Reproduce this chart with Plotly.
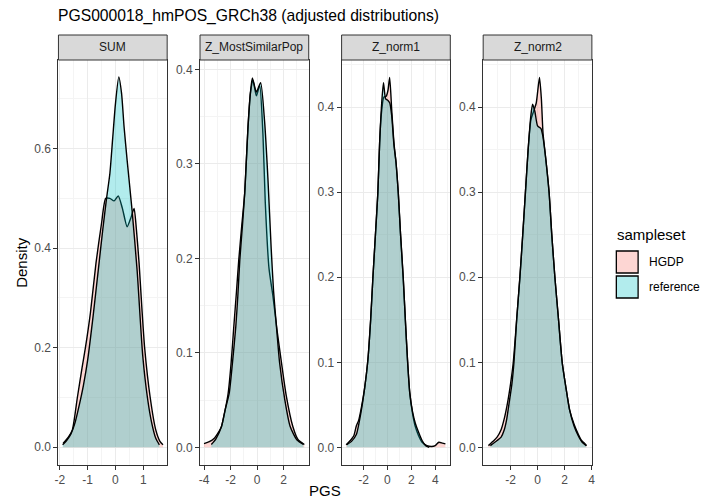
import plotly.graph_objects as go

W, H = 702, 501

# ---------------- data ----------------
panels = ["SUM", "Z_MostSimilarPop", "Z_norm1", "Z_norm2"]
groups = ["HGDP", "reference"]

sum_hgdp_x = [-1.88, -1.7, -1.55, -1.37, -1.2, -1.08, -0.9, -0.7, -0.5, -0.35, -0.2, -0.05,
              0.1, 0.25, 0.42, 0.55, 0.67, 0.75, 0.85, 0.95, 1.05, 1.25, 1.45, 1.6, 1.71]
sum_hgdp_y = [0.008, 0.02, 0.035, 0.10, 0.16, 0.20, 0.27, 0.37, 0.45, 0.50, 0.50, 0.495,
              0.505, 0.48, 0.443, 0.46, 0.48, 0.44, 0.37, 0.28, 0.20, 0.10, 0.035, 0.012, 0.005]
sum_ref_x = [-1.9, -1.75, -1.6, -1.45, -1.3, -1.15, -1.0, -0.8, -0.62, -0.45, -0.32, -0.2, -0.1,
             0.0, 0.12, 0.22, 0.31, 0.42, 0.6, 0.78, 0.98, 1.15, 1.3, 1.45, 1.58]
sum_ref_y = [0.005, 0.014, 0.027, 0.05, 0.085, 0.125, 0.175, 0.265, 0.355, 0.44, 0.50, 0.55, 0.62,
             0.69, 0.744, 0.711, 0.644, 0.577, 0.475, 0.355, 0.185, 0.10, 0.05, 0.018, 0.005]

msp_hgdp_x = [-4.0, -3.6, -3.2, -2.9, -2.68, -2.4, -2.18, -1.95, -1.75, -1.55, -1.38, -1.15, -0.93,
              -0.68, -0.5, -0.3, -0.05, 0.2, 0.45, 0.62, 0.9, 1.2, 1.5, 1.82, 2.2, 2.7, 3.1, 3.57]
msp_hgdp_y = [0.004, 0.006, 0.01, 0.016, 0.022, 0.04, 0.057, 0.09, 0.128, 0.165, 0.198, 0.235, 0.269,
              0.339, 0.375, 0.388, 0.372, 0.383, 0.33, 0.26, 0.19, 0.16, 0.125, 0.092, 0.055,
              0.022, 0.008, 0.003]
msp_ref_x = [-3.45, -3.1, -2.68, -2.4, -2.1, -1.85, -1.6, -1.45, -1.30, -1.1, -0.93, -0.68, -0.5,
             -0.35, -0.05, 0.27, 0.57, 0.82, 1.07, 1.25, 1.5, 1.70, 2.1, 2.5, 3.0, 3.5]
msp_ref_y = [0.003, 0.009, 0.022, 0.04, 0.057, 0.09, 0.128, 0.16, 0.198, 0.235, 0.269, 0.339, 0.375,
             0.391, 0.376, 0.386, 0.345, 0.285, 0.21, 0.165, 0.122, 0.09, 0.05, 0.022, 0.008, 0.003]

n1_hgdp_x = [-3.45, -3.1, -2.8, -2.6, -2.4, -2.2, -1.9, -1.63, -1.4, -1.21, -1.0, -0.8, -0.65,
             -0.52, -0.3, -0.1, 0.05, 0.19, 0.36, 0.55, 0.72, 0.91, 1.1, 1.32, 1.5, 1.68, 1.87,
             2.1, 2.34, 2.6, 2.9, 3.3, 3.7, 4.0, 4.3, 4.6, 4.85]
n1_hgdp_y = [0.003, 0.008, 0.014, 0.025, 0.032, 0.045, 0.07, 0.103, 0.15, 0.2, 0.25, 0.299, 0.358,
             0.39, 0.412, 0.413, 0.42, 0.435, 0.397, 0.358, 0.335, 0.299, 0.25, 0.2, 0.15, 0.103,
             0.064, 0.04, 0.024, 0.014, 0.006, 0.002, 0.001, 0.002, 0.006, 0.005, 0.004]
n1_ref_x = [-3.4, -3.0, -2.6, -2.2, -1.9, -1.63, -1.4, -1.21, -1.0, -0.8, -0.65, -0.5, -0.33, -0.15,
            0.05, 0.2, 0.36, 0.55, 0.72, 0.91, 1.1, 1.32, 1.5, 1.68, 1.87, 2.1, 2.34, 2.6, 2.9,
            3.2, 3.5]
n1_ref_y = [0.003, 0.007, 0.015, 0.042, 0.07, 0.103, 0.15, 0.2, 0.25, 0.299, 0.358, 0.40, 0.429,
            0.41, 0.408, 0.405, 0.39, 0.355, 0.335, 0.299, 0.25, 0.2, 0.15, 0.103, 0.064, 0.042,
            0.028, 0.018, 0.008, 0.002, 0.0]

n2_hgdp_x = [-3.64, -3.3, -3.0, -2.72, -2.45, -2.23, -2.0, -1.8, -1.55, -1.31, -1.1, -0.9, -0.7,
             -0.5, -0.3, -0.1, 0.14, 0.28, 0.4, 0.6, 0.85, 1.05, 1.28, 1.55, 1.82, 2.1, 2.37,
             2.7, 2.98, 3.25, 3.46, 3.63]
n2_hgdp_y = [0.002, 0.007, 0.012, 0.020, 0.035, 0.052, 0.075, 0.10, 0.15, 0.2, 0.25, 0.3, 0.35,
             0.385, 0.395, 0.405, 0.435, 0.41, 0.37, 0.34, 0.30, 0.25, 0.2, 0.15, 0.10, 0.07,
             0.044, 0.027, 0.0165, 0.008, 0.005, 0.002]
n2_ref_x = [-3.5, -3.0, -2.7, -2.48, -2.3, -2.11, -1.9, -1.75, -1.55, -1.31, -1.1, -0.9, -0.7,
            -0.5, -0.37, -0.2, 0.0, 0.25, 0.4, 0.6, 0.85, 1.05, 1.28, 1.55, 1.82, 2.1, 2.37,
            2.7, 3.0, 3.3, 3.6]
n2_ref_y = [0.002, 0.008, 0.012, 0.02, 0.032, 0.052, 0.075, 0.10, 0.15, 0.2, 0.25, 0.3, 0.35,
            0.39, 0.4035, 0.395, 0.378, 0.375, 0.365, 0.34, 0.30, 0.25, 0.2, 0.15, 0.10, 0.07,
            0.044, 0.025, 0.014, 0.006, 0.002]

# tick labels
x_tickvals = [[-2, -1, 0, 1], [-4, -2, 0, 2], [-2, 0, 2, 4], [-2, 0, 2, 4]]
x_ticktext = [["-2", "-1", "0", "1"], ["-4", "-2", "0", "2"], ["-2", "0", "2", "4"], ["-2", "0", "2", "4"]]
y_tickvals = [[0.0, 0.2, 0.4, 0.6], [0.0, 0.1, 0.2, 0.3, 0.4], [0.0, 0.1, 0.2, 0.3, 0.4], [0.0, 0.1, 0.2, 0.3, 0.4]]
y_ticktext = [["0.0", "0.2", "0.4", "0.6"], ["0.0", "0.1", "0.2", "0.3", "0.4"],
              ["0.0", "0.1", "0.2", "0.3", "0.4"], ["0.0", "0.1", "0.2", "0.3", "0.4"]]

series = {
    "SUM": {"HGDP": (sum_hgdp_x, sum_hgdp_y), "reference": (sum_ref_x, sum_ref_y)},
    "Z_MostSimilarPop": {"HGDP": (msp_hgdp_x, msp_hgdp_y), "reference": (msp_ref_x, msp_ref_y)},
    "Z_norm1": {"HGDP": (n1_hgdp_x, n1_hgdp_y), "reference": (n1_ref_x, n1_ref_y)},
    "Z_norm2": {"HGDP": (n2_hgdp_x, n2_hgdp_y), "reference": (n2_ref_x, n2_ref_y)},
}

# ---------------- styling / layout ----------------
FONT = "Liberation Sans, Arial, Helvetica, sans-serif"
fills = {"HGDP": "rgba(248,118,109,0.3)", "reference": "rgba(0,191,196,0.3)"}
x_ranges = [[-2.05, 1.86], [-4.3, 3.9], [-3.83, 5.26], [-4.03, 4.02]]
y_ranges = [[-0.0356, 0.778], [-0.0187, 0.41], [-0.0208, 0.4556], [-0.0208, 0.4556]]
x_minor = [0.5, 1, 1, 1]
y_minor = [0.1, 0.05, 0.05, 0.05]

PANEL_TOP, PANEL_BOT = 60, 465
STRIP_TOP = 35
panel_left = [55, 198, 341, 484]
PANEL_W = 109.8


def px(x):
    return x / W


def py(y):
    return (H - y) / H


fig = go.Figure()
layout = dict(
    width=W, height=H, autosize=False,
    margin=dict(l=0, r=0, t=0, b=0),
    paper_bgcolor="white", plot_bgcolor="white",
    showlegend=False,
    font=dict(family=FONT, color="#1A1A1A"),
)
shapes, annotations = [], []

for i, p in enumerate(panels):
    ax = "" if i == 0 else str(i + 1)
    for g in groups:
        xs, ys = series[p][g]
        fig.add_trace(go.Scatter(
            x=xs, y=ys, mode="lines", fill="tozeroy", fillcolor=fills[g],
            line=dict(color="black", width=1.4, shape="spline", smoothing=0.6),
            name=g, xaxis="x" + ax, yaxis="y" + ax, hoverinfo="skip"))
    x0, x1 = panel_left[i], panel_left[i] + PANEL_W
    common = dict(showline=True, mirror=True, linecolor="#333333", linewidth=1,
                  showgrid=True, gridcolor="#EBEBEB", gridwidth=1, zeroline=False,
                  ticks="outside", ticklen=4, tickwidth=1, tickcolor="#333333",
                  tickfont=dict(size=12, color="#4D4D4D", family=FONT))
    layout["xaxis" + ax] = dict(
        domain=[px(x0), px(x1)], anchor="y" + ax, range=x_ranges[i],
        tickmode="array", tickvals=x_tickvals[i], ticktext=x_ticktext[i],
        minor=dict(dtick=x_minor[i], tick0=0, showgrid=True, gridcolor="#F4F4F4", gridwidth=0.6, ticks=""),
        **common)
    layout["yaxis" + ax] = dict(
        domain=[py(PANEL_BOT), py(PANEL_TOP)], anchor="x" + ax, range=y_ranges[i],
        tickmode="array", tickvals=y_tickvals[i], ticktext=y_ticktext[i],
        minor=dict(dtick=y_minor[i], tick0=0, showgrid=True, gridcolor="#F4F4F4", gridwidth=0.6, ticks=""),
        **common)
    # strip
    shapes.append(dict(type="rect", xref="paper", yref="paper",
                       x0=px(x0), x1=px(x1), y0=py(PANEL_TOP), y1=py(STRIP_TOP),
                       fillcolor="#D9D9D9", line=dict(color="#333333", width=1), layer="above"))
    annotations.append(dict(text=p, xref="paper", yref="paper", x=px((x0 + x1) / 2),
                            y=py((STRIP_TOP + PANEL_TOP) / 2), showarrow=False,
                            xanchor="center", yanchor="middle",
                            font=dict(size=12, color="#1A1A1A", family=FONT)))

# title and axis titles
annotations.append(dict(text="PGS000018_hmPOS_GRCh38 (adjusted distributions)", xref="paper", yref="paper",
                        x=px(53), y=py(16), xanchor="left", yanchor="middle", showarrow=False,
                        font=dict(size=15.7, color="black", family=FONT)))
annotations.append(dict(text="Density", xref="paper", yref="paper", x=px(17), y=py(262),
                        xanchor="center", yanchor="middle", textangle=-90, showarrow=False,
                        font=dict(size=15, color="black", family=FONT)))
annotations.append(dict(text="PGS", xref="paper", yref="paper", x=px(324.5), y=py(490),
                        xanchor="center", yanchor="middle", showarrow=False,
                        font=dict(size=15, color="black", family=FONT)))

# legend (drawn like ggplot's key boxes)
annotations.append(dict(text="sampleset", xref="paper", yref="paper", x=px(617), y=py(235),
                        xanchor="left", yanchor="middle", showarrow=False,
                        font=dict(size=15, color="black", family=FONT)))
key_tops = [251, 276]
for g, top in zip(groups, key_tops):
    shapes.append(dict(type="rect", xref="paper", yref="paper", x0=px(618.5), x1=px(640.5),
                       y0=py(top + 22), y1=py(top), fillcolor=fills[g],
                       line=dict(color="black", width=1.3)))
    annotations.append(dict(text=g, xref="paper", yref="paper", x=px(649), y=py(top + 11),
                            xanchor="left", yanchor="middle", showarrow=False,
                            font=dict(size=12, color="black", family=FONT)))

layout["shapes"] = shapes
layout["annotations"] = annotations
fig.update_layout(**layout)
fig.write_html("out.html", config={"displayModeBar": False},
               post_script="document.body.style.margin='0';document.body.style.padding='0';"
                           "document.body.style.overflow='hidden';")
